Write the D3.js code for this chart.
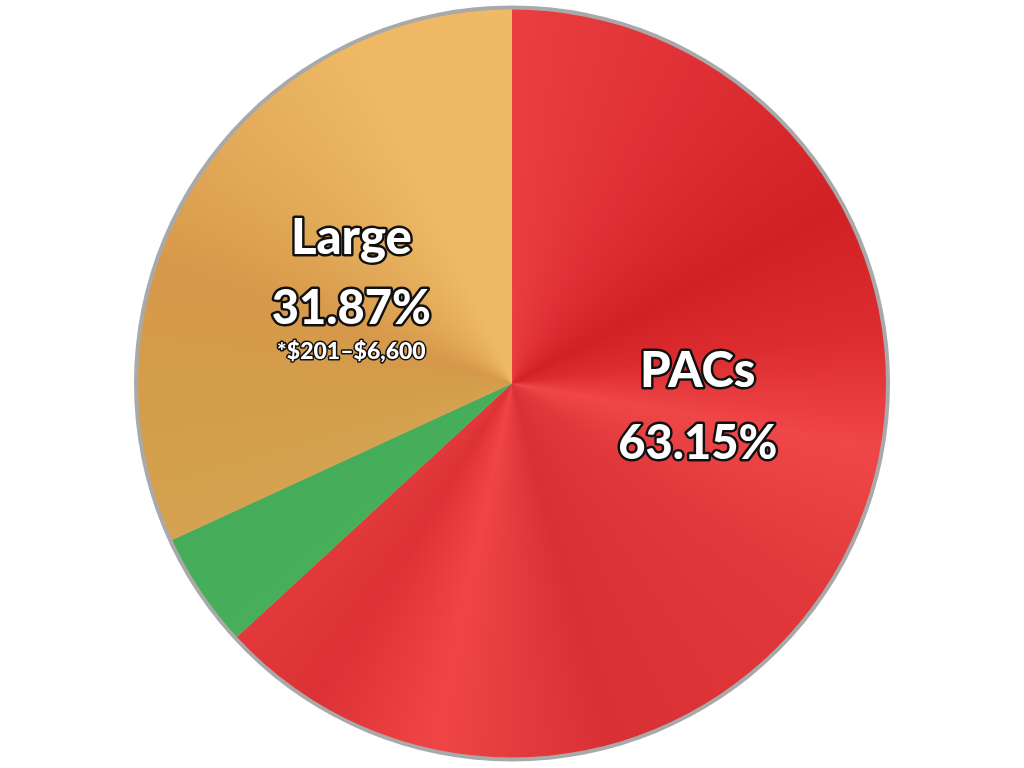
<!DOCTYPE html>
<html>
<head>
  <style>
    body {
      margin: 0;
      background: #fff;
    }
    #chart {
      position: relative;
      width: 1024px;
      height: 768px;
    }
    #chart canvas, #chart svg {
      position: absolute;
      left: 0;
      top: 0;
    }
    .label {
      font-family: "Lato", "Open Sans", sans-serif;
      font-weight: 900;
      fill: #fff;
      stroke: #111;
      stroke-linejoin: round;
      paint-order: stroke;
      text-anchor: middle;
    }
  </style>
</head>
<body>
  <div id="chart"></div>
  <script src="https://d3js.org/d3.v7.min.js"></script>
  <script>
    var categories = ["PACs", "Small", "Large"];
    var shares = [63.15, 4.98, 31.87];
    var labels = ["63.15%", "", "31.87%"];
    var notes = ["", "", "*$201–$6,600"];

    // shading stops (degrees clockwise from top) for the glossy conic look
    var shades = {
      PACs: [[0, "#ea3e41"], [30, "#df3135"], [62, "#d02125"], [82, "#dc2c30"], [100, "#ef4648"],
             [125, "#e1383b"], [165, "#d83034"], [192, "#ef4547"], [212, "#dc3235"], [228, "#e2393b"]],
      Small: [[227, "#47ae5a"], [246, "#45ac59"]],
      Large: [[245, "#d4a250"], [270, "#d39d4b"], [288, "#d6984a"], [310, "#e2aa58"], [335, "#eeb864"], [360, "#f0b966"]]
    };

    var width = 1024, height = 768;
    var cx = 512, cy = 383.5, radius = 374;
    var deg = 180 / Math.PI;

    var data = categories.map(function(c, i){
      return { name: c, value: shares[i], label: labels[i], note: notes[i] };
    });

    var pie = d3.pie()
        .sort(null)
        .value(function(d){ return d.value; });

    var arcs = pie(data);

    var canvas = d3.select("#chart").append("canvas")
        .attr("width", width)
        .attr("height", height);
    var ctx = canvas.node().getContext("2d");
    ctx.translate(cx, cy);

    // grey rim
    ctx.beginPath();
    ctx.arc(0, 0, radius + 4, 0, 2 * Math.PI);
    ctx.fillStyle = "#a9a9a9";
    ctx.fill();

    var arc = d3.arc().innerRadius(0).outerRadius(radius).context(ctx);

    arcs.forEach(function(a){
      var stops = shades[a.data.name];
      var fill;
      if (ctx.createConicGradient) {
        fill = ctx.createConicGradient(-Math.PI / 2, 0, 0);
        stops.forEach(function(s){
          fill.addColorStop(Math.max(0, Math.min(1, s[0] / 360)), s[1]);
        });
      } else {
        fill = stops[0][1];
      }
      ctx.beginPath();
      arc(a);
      ctx.closePath();
      ctx.fillStyle = fill;
      ctx.fill();
    });

    var svg = d3.select("#chart").append("svg")
        .attr("width", width)
        .attr("height", height);

    var g = svg.append("g")
        .attr("transform", "translate(" + cx + "," + cy + ")");

    // label placement: fraction of radius and angular shift from the slice middle
    var labelPos = {
      PACs: { r: 0.5, shiftAngle: -17 },
      Large: { r: 0.51, shiftAngle: 0 }
    };

    arcs.forEach(function(a){
      var p = labelPos[a.data.name];
      if (!p) return;
      var mid = (a.startAngle + a.endAngle) / 2 + p.shiftAngle / deg;
      var r = radius * p.r;
      var x = Math.sin(mid) * r, y = -Math.cos(mid) * r;

      var lines = a.data.name === "Large"
        ? [["Large", 49, -27], [a.data.label, 47, 43], [a.data.note, 23, 78]]
        : [["PACs", 49, -18], [a.data.label, 47, 54]];

      lines.forEach(function(l){
        g.append("text")
            .attr("class", "label")
            .attr("x", x)
            .attr("y", y + l[2])
            .style("font-size", l[1] + "px")
            .style("stroke-width", l[1] > 30 ? 5 : 3)
            .text(l[0]);
      });
    });
  </script>
</body>
</html>
